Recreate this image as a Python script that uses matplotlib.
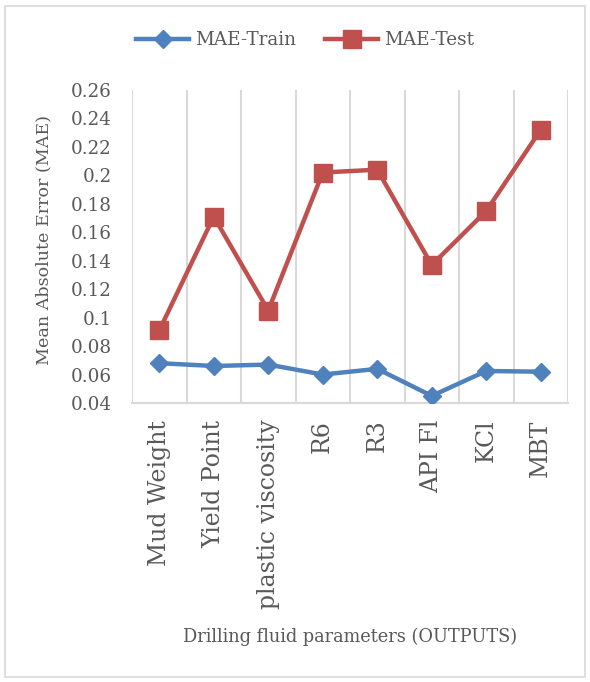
import matplotlib
matplotlib.use("Agg")
import matplotlib.pyplot as plt
from matplotlib.patches import Rectangle

categories = ["Mud Weight", "Yield Point", "plastic viscosity", "R6", "R3", "API Fl", "KCl", "MBT"]
mae_train = [0.068, 0.066, 0.067, 0.060, 0.064, 0.045, 0.0625, 0.062]
mae_test = [0.091, 0.171, 0.105, 0.202, 0.204, 0.137, 0.175, 0.232]
yticks = [0.04, 0.06, 0.08, 0.1, 0.12, 0.14, 0.16, 0.18, 0.2, 0.22, 0.24, 0.26]
ytick_labels = ["0.04", "0.06", "0.08", "0.1", "0.12", "0.14", "0.16", "0.18", "0.2", "0.22", "0.24", "0.26"]

plt.rcParams['font.family'] = ['DejaVu Serif']
txt = "#595959"
W, H = 590, 682
fig = plt.figure(figsize=(W/100, H/100), dpi=100)
fig.patches.append(Rectangle((5/W, 5/H), 580/W, 671/H, transform=fig.transFigure,
                             fill=False, edgecolor="#D9D9D9", lw=1.2))

ax = fig.add_axes([132/W, 1-403/H, (568-132)/W, (403-90)/H])
x = list(range(len(categories)))
ax.plot(x, mae_train, color="#4F81BD", lw=3.2, marker="D", ms=9, label="MAE-Train", zorder=3)
ax.plot(x, mae_test, color="#C0504D", lw=3.2, marker="s", ms=12.5, label="MAE-Test", zorder=3)
ax.set_xlim(-0.5, len(categories)-0.5)
ax.set_ylim(0.04, 0.26)
ax.set_yticks(yticks)
ax.set_yticklabels(ytick_labels)
ax.set_xticks(x)
ax.set_xticklabels(categories, rotation=90, va="top", ha="center")
for b in [i+0.5 for i in range(-1, len(categories))]:
    ax.axvline(b, color="#D9D9D9", lw=1.5, zorder=1)
for s in ["top", "right", "left"]:
    ax.spines[s].set_visible(False)
ax.spines["bottom"].set_color("#D9D9D9")
ax.spines["bottom"].set_linewidth(1.5)
ax.tick_params(axis="both", length=0, colors=txt)
ax.tick_params(axis="y", labelsize=13.2, pad=14.5)
ax.tick_params(axis="x", labelsize=17, pad=12)
ax.set_ylabel("Mean Absolute Error (MAE)", color=txt, fontsize=12.6)
ax.yaxis.set_label_coords(-0.183, 0.52)
fig.text(350/W, 1-637/H, "Drilling fluid parameters (OUTPUTS)", color=txt, fontsize=12.8,
         ha="center", va="center")
leg = fig.legend(loc="center", bbox_to_anchor=(305/W, 1-40/H), ncol=2, frameon=False,
                 fontsize=13.2, handlelength=2.9, columnspacing=1.6, handletextpad=0.3)
for t in leg.get_texts():
    t.set_color(txt)
fig.savefig("out.png", dpi=100)
